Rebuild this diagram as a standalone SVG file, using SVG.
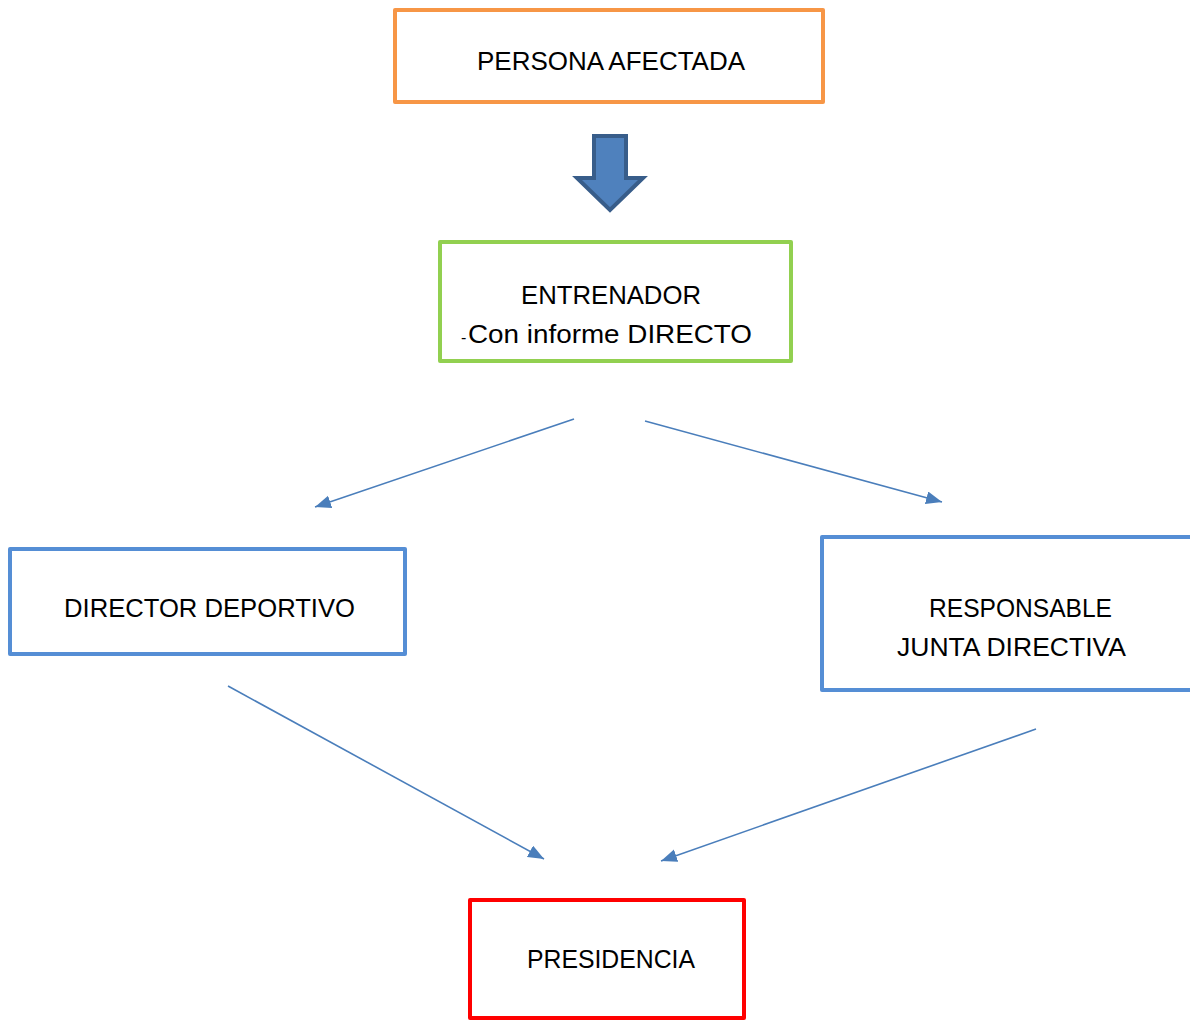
<svg xmlns="http://www.w3.org/2000/svg" width="1190" height="1021" viewBox="0 0 1190 1021">
<defs>
<style>
.box{fill:#ffffff;stroke-width:4;stroke-linejoin:round}
.t{font-family:"Liberation Sans",Arial,sans-serif;font-size:26px;fill:#000000}
.conn{stroke:#4a7ebb;stroke-width:1.6;fill:none}
</style>
<marker id="ah" markerUnits="userSpaceOnUse" markerWidth="17" markerHeight="14" refX="16" refY="6.5" orient="auto">
<path d="M0,0 L16,6.5 L0,13 z" fill="#4a7ebb"/>
</marker>
</defs>
<rect width="1190" height="1021" fill="#ffffff"/>
<g id="persona-afectada">
<rect class="box" x="395" y="10" width="428" height="92" stroke="#f79646"/>
<text class="t" x="477" y="70" textLength="268" lengthAdjust="spacingAndGlyphs">PERSONA AFECTADA</text>
</g>
<g id="block-arrow">
<path d="M594,136 L626,136 L626,178 L643,178 L610,210 L577,178 L594,178 Z" fill="#4f81bd" stroke="#385d8a" stroke-width="4" stroke-linejoin="miter"/>
</g>
<g id="entrenador">
<rect class="box" x="440" y="242" width="351" height="119" stroke="#92d050"/>
<text class="t" x="521" y="304" textLength="180" lengthAdjust="spacingAndGlyphs">ENTRENADOR</text>
<text class="t" x="461" y="343"><tspan font-size="16">-</tspan><tspan x="468" textLength="284" lengthAdjust="spacingAndGlyphs">Con informe DIRECTO</tspan></text>
</g>
<g id="director-deportivo">
<rect class="box" x="10" y="549" width="395" height="105" stroke="#558ed5"/>
<text class="t" x="64" y="617" textLength="291" lengthAdjust="spacingAndGlyphs">DIRECTOR DEPORTIVO</text>
</g>
<g id="responsable-junta">
<rect class="box" x="822" y="537" width="400" height="153" stroke="#558ed5"/>
<text class="t" x="929" y="617" textLength="183" lengthAdjust="spacingAndGlyphs">RESPONSABLE</text>
<text class="t" x="897" y="656" textLength="229" lengthAdjust="spacingAndGlyphs">JUNTA DIRECTIVA</text>
</g>
<g id="presidencia">
<rect class="box" x="470" y="900" width="274" height="118" stroke="#ff0000"/>
<text class="t" x="527" y="968" textLength="168" lengthAdjust="spacingAndGlyphs">PRESIDENCIA</text>
</g>
<g id="connectors">
<line class="conn" x1="574" y1="419" x2="315" y2="507" marker-end="url(#ah)"/>
<line class="conn" x1="645" y1="421" x2="942" y2="502" marker-end="url(#ah)"/>
<line class="conn" x1="228" y1="686" x2="544" y2="859" marker-end="url(#ah)"/>
<line class="conn" x1="1036" y1="729" x2="661" y2="861" marker-end="url(#ah)"/>
</g>
</svg>
